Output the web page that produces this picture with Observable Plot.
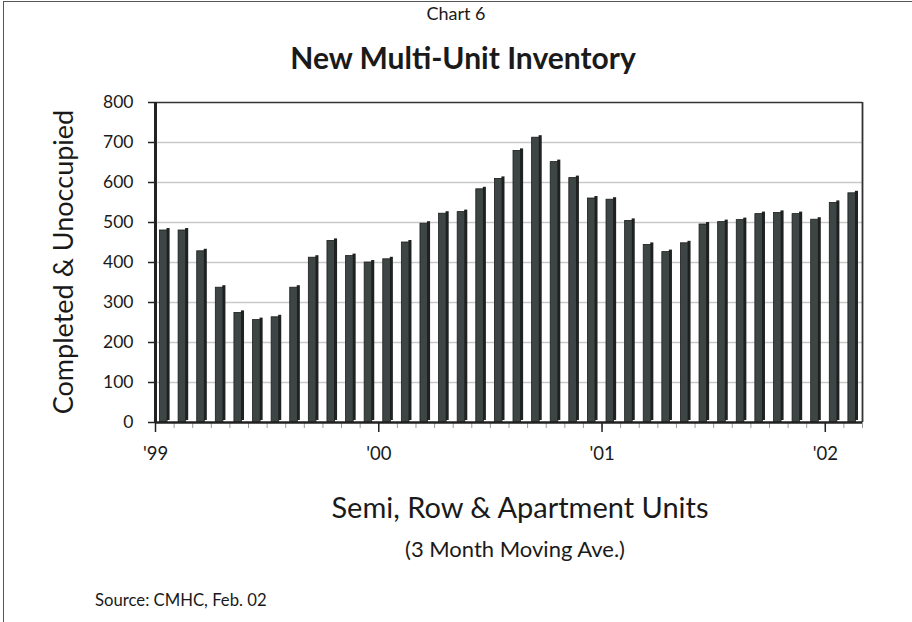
<!DOCTYPE html>
<html>
<head>
<meta charset="utf-8">
<script src="https://cdn.jsdelivr.net/npm/d3@7"></script>
<script src="https://cdn.jsdelivr.net/npm/@observablehq/plot@0.6"></script>
<style>
  body { margin: 0; background: #fff; }
  #wrap { position: relative; width: 912px; height: 622px; overflow: hidden; font-family: Lato, "Open Sans", sans-serif; color: #1a1a1a; }
  #border { position: absolute; left: 3px; top: 1px; width: 920px; height: 640px; border-top: 1.5px solid #555; border-left: 1.5px solid #555; }
  .t { position: absolute; white-space: nowrap; line-height: 1.2; }
  #plot { position: absolute; left: 0; top: 0; }
</style>
</head>
<body>
<div id="wrap">
  <div id="border"></div>
  <div id="plot"></div>
  <div class="t" style="left:456px;top:14px;transform:translate(-50%,-50%);font-size:18px;">Chart 6</div>
  <div class="t" style="left:463px;top:57px;transform:translate(-50%,-50%);font-size:30px;font-weight:bold;">New Multi-Unit Inventory</div>
  <div class="t" style="left:63px;top:262px;transform:translate(-50%,-50%) rotate(-90deg);font-size:27px;">Completed &amp; Unoccupied</div>
  <div class="t" style="left:520px;top:507px;transform:translate(-50%,-50%);font-size:29px;">Semi, Row &amp; Apartment Units</div>
  <div class="t" style="left:515px;top:549px;transform:translate(-50%,-50%);font-size:22px;">(3 Month Moving Ave.)</div>
  <div class="t" style="left:95px;top:600px;transform:translate(0,-50%);font-size:16.7px;">Source: CMHC, Feb. 02</div>
</div>
<script>
// Months Jan 1999 .. Feb 2002
const months = [
  "Jan 99","Feb 99","Mar 99","Apr 99","May 99","Jun 99","Jul 99","Aug 99","Sep 99","Oct 99","Nov 99","Dec 99",
  "Jan 00","Feb 00","Mar 00","Apr 00","May 00","Jun 00","Jul 00","Aug 00","Sep 00","Oct 00","Nov 00","Dec 00",
  "Jan 01","Feb 01","Mar 01","Apr 01","May 01","Jun 01","Jul 01","Aug 01","Sep 01","Oct 01","Nov 01","Dec 01",
  "Jan 02","Feb 02"
];
const inventory = [
  480, 480, 428, 337, 274, 256, 263, 337, 412, 454, 416, 400,
  408, 450, 497, 522, 526, 583, 609, 679, 712, 651, 611, 560,
  557, 504, 444, 426, 448, 495, 501, 506, 521, 524, 521, 507,
  549, 573
];
const yTicks = [0, 100, 200, 300, 400, 500, 600, 700, 800];
const yearTickPos = [0, 12, 24, 36];
const yearLabels = ["'99", "'00", "'01", "'02"];

const data = months.map((m, i) => ({month: m, i, value: inventory[i]}));
const monthTicks = d3.range(0, months.length + 1);

const chart = Plot.plot({
  width: 912,
  height: 622,
  marginLeft: 155,
  marginRight: 50,
  marginTop: 102,
  marginBottom: 200,
  style: {fontFamily: "Lato, 'Open Sans', sans-serif", background: "transparent", color: "#1a1a1a"},
  x: {type: "linear", domain: [0, months.length], axis: null},
  y: {domain: [0, 800], axis: null},
  marks: [
    Plot.ruleY(yTicks.filter(d => d > 0 && d < 800), {stroke: "#c9c9c9", strokeWidth: 1.5}),
    // bar side face (3D depth)
    Plot.rectY(data, {x1: d => d.i, x2: d => d.i + 1, y: "value", insetLeft: 11.5, insetRight: 4, dy: -2, fill: "#1f2221"}),
    // bar front face
    Plot.rectY(data, {x1: d => d.i, x2: d => d.i + 1, y: "value", insetLeft: 4.5, insetRight: 6.5, fill: "#3d4644", stroke: "#1b1d1c", strokeWidth: 0.8}),
    // frame top & right
    Plot.ruleY([800], {stroke: "#333", strokeWidth: 1.5}),
    Plot.ruleX([months.length], {stroke: "#333", strokeWidth: 1.8}),
    // month ticks
    Plot.axisX({ticks: monthTicks, tickSize: 6, tickFormat: () => "", stroke: "#9a9a9a", label: null}),
    // year ticks + labels
    Plot.axisX({ticks: yearTickPos, tickSize: 10, tickPadding: 14, tickFormat: (d) => yearLabels[yearTickPos.indexOf(d)], fontSize: 18.5, stroke: "#222", strokeWidth: 1.5, label: null}),
    Plot.axisY({ticks: yTicks, tickSize: 7, tickPadding: 15, fontSize: 17.5, stroke: "#222", strokeWidth: 1.5, label: null}),
    Plot.ruleX([0], {stroke: "#222", strokeWidth: 3}),
    Plot.ruleY([0], {stroke: "#222", strokeWidth: 2.5})
  ]
});
document.getElementById("plot").appendChild(chart);
</script>
</body>
</html>
